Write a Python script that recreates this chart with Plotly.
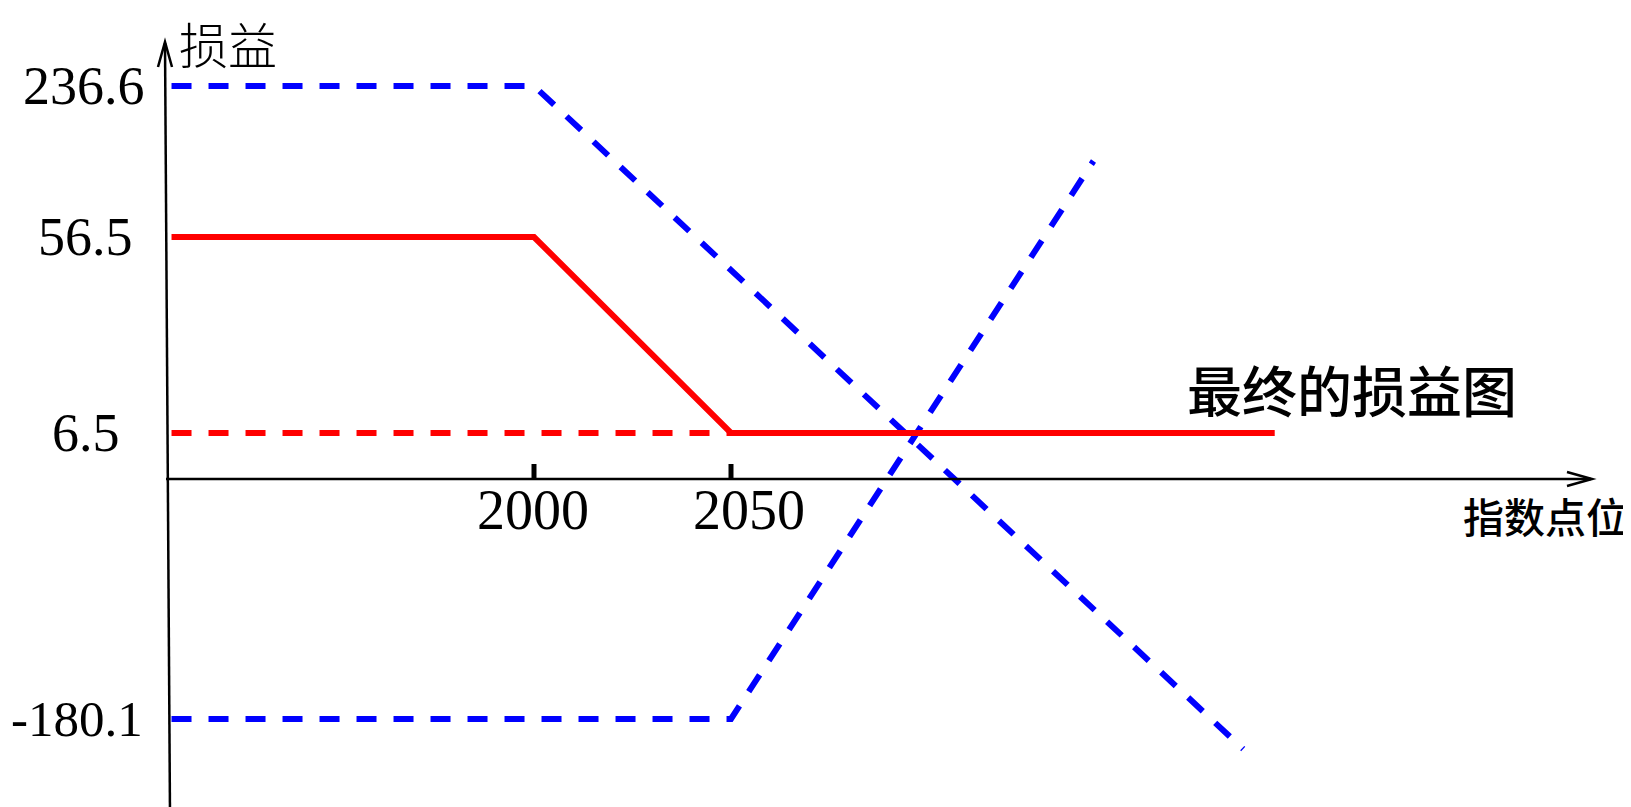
import plotly.graph_objects as go

# schematic payoff diagram: x in index points, y in schematic display units
strikes = [2000, 2050]
strike_labels = ["2000", "2050"]
payoff_levels = [393, 242, 46, -240]
payoff_labels = ["236.6", "56.5", "6.5", "-180.1"]

# blue dashed leg falling from 236.6
leg_a_x = [1908, 2000, 2180]
leg_a_y = [393, 393, -270]
# blue dashed leg rising from -180.1
leg_b_x = [1908, 2050, 2142]
leg_b_y = [-240, -240, 318]
# final payoff (red solid)
final_x = [1908, 2000, 2050, 2188]
final_y = [242, 242, 46, 46]
# red dashed guide at 6.5
guide_x = [1908, 2050]
guide_y = [46, 46]

W, H = 1631, 807
OFF = 8            # page body margin
px_per_pt = 3.94
AXIS_PY = 479      # pixel row of the horizontal axis
x0 = 2000 - (534 - OFF) / px_per_pt
x1 = x0 + W / px_per_pt


def dx(px):
    return 2000 + (px - 534) / px_per_pt


def dy(py):
    return AXIS_PY - py


serif = "Liberation Serif"
cjk = "Noto Sans CJK SC"
dash = "20px,17px"

fig = go.Figure()
fig.add_trace(go.Scatter(x=leg_a_x, y=leg_a_y, mode="lines",
                         line=dict(color="#0000ff", width=6, dash=dash)))
fig.add_trace(go.Scatter(x=leg_b_x, y=leg_b_y, mode="lines",
                         line=dict(color="#0000ff", width=6, dash=dash)))
fig.add_trace(go.Scatter(x=guide_x, y=guide_y, mode="lines",
                         line=dict(color="#ff0000", width=6, dash=dash)))
fig.add_trace(go.Scatter(x=final_x, y=final_y, mode="lines",
                         line=dict(color="#ff0000", width=6)))

shapes = []
# axes
shapes.append(dict(type="line", x0=dx(170), y0=dy(815), x1=dx(165), y1=dy(43),
                   xref="x", yref="y", line=dict(color="black", width=2.5)))
shapes.append(dict(type="line", x0=dx(166), y0=0, x1=dx(1591), y1=0,
                   xref="x", yref="y", line=dict(color="black", width=2.5)))
# arrow heads
shapes.append(dict(type="path", xref="x", yref="y", xsizemode="pixel", ysizemode="pixel",
                   xanchor=dx(165), yanchor=dy(42), path="M -7,-25 L 0,0 L 7,-25",
                   line=dict(color="black", width=2.5)))
shapes.append(dict(type="path", xref="x", yref="y", xsizemode="pixel", ysizemode="pixel",
                   xanchor=dx(1592), yanchor=0, path="M -25,7 L 0,0 L -25,-7",
                   line=dict(color="black", width=2.5)))
# strike tick marks
for s in strikes:
    shapes.append(dict(type="line", x0=s, x1=s, y0=0, y1=15, xref="x", yref="y",
                       line=dict(color="black", width=5)))

annotations = []
label_right = [147, 135, 122, 145]
label_size = [54, 54, 54, 51]
for val, lab, r, sz in zip(payoff_levels, payoff_labels, label_right, label_size):
    annotations.append(dict(x=dx(r), y=val, xref="x", yref="y",
                            text=lab, showarrow=False, xanchor="right", yanchor="middle",
                            font=dict(family=serif, size=sz, color="black")))

label_center = [533, 749]
for s, lab, c in zip(strikes, strike_labels, label_center):
    annotations.append(dict(x=dx(c), y=dy(510), xref="x", yref="y",
                            text=lab, showarrow=False, xanchor="center", yanchor="middle",
                            font=dict(family=serif, size=56, color="black")))

annotations.append(dict(x=dx(228), y=dy(42), xref="x", yref="y", text="损益",
                        showarrow=False, xanchor="center", yanchor="middle",
                        font=dict(family=cjk, size=49, color="black", weight=300)))
annotations.append(dict(x=dx(1629), y=dy(515), xref="x", yref="y", text="指数点位",
                        showarrow=False, xanchor="right", yanchor="middle",
                        font=dict(family=cjk, size=41, color="black", weight=500)))
annotations.append(dict(x=dx(1352), y=dy(388), xref="x", yref="y", text="最终的损益图",
                        showarrow=False, xanchor="center", yanchor="middle",
                        font=dict(family=cjk, size=55, color="black", weight=500)))

fig.update_layout(
    width=W, height=H,
    margin=dict(l=0, r=0, t=0, b=0),
    plot_bgcolor="white", paper_bgcolor="white",
    showlegend=False,
    xaxis=dict(range=[x0, x1], visible=False),
    yaxis=dict(range=[AXIS_PY - OFF - H, AXIS_PY - OFF], visible=False),
    annotations=annotations,
    shapes=shapes,
)

fig.write_html("out.html")
